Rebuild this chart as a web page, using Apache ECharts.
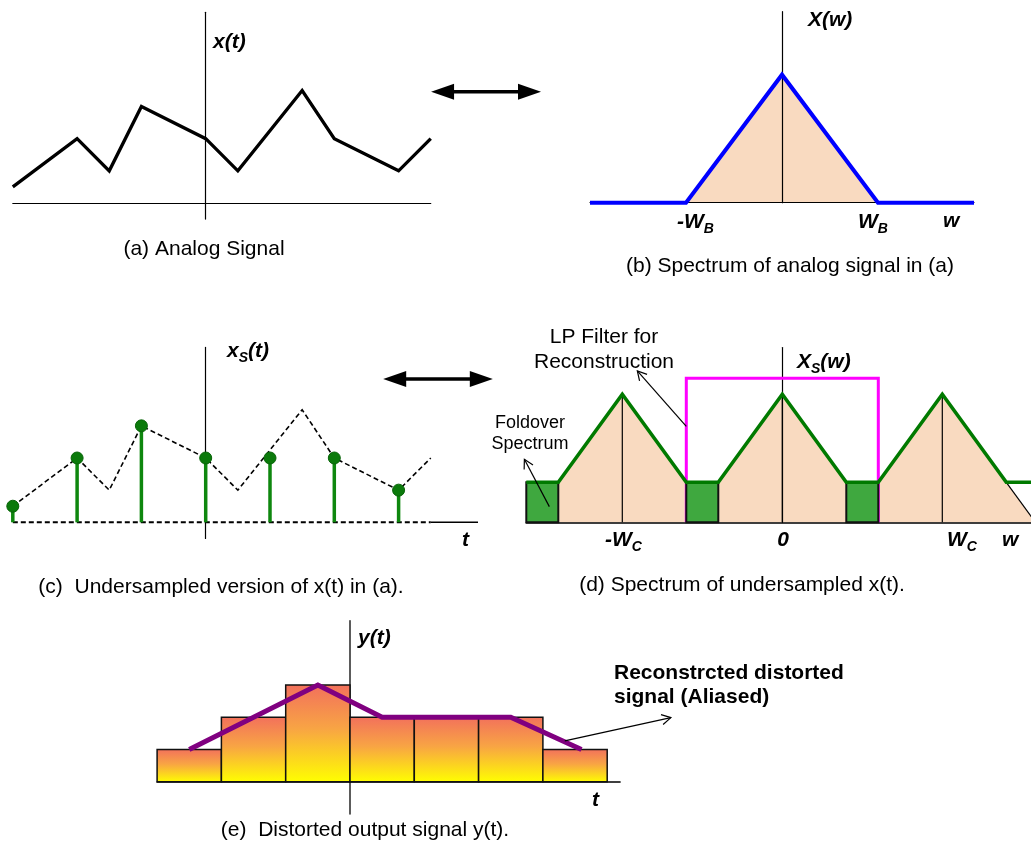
<!DOCTYPE html>
<html>
<head>
<meta charset="utf-8">
<title>Aliasing: undersampling and reconstruction</title>
<script src="https://cdn.jsdelivr.net/npm/echarts@6/dist/echarts.min.js"></script>
<style>
  html, body { margin: 0; padding: 0; background: #ffffff; }
  #chart { width: 1031px; height: 844px; }
</style>
</head>
<body>
<div id="chart"></div>
<script>
// ---- (a) analog signal x(t), breakpoints in half-sample steps ----
const signalT = [-6, -4, -3, -2, 0, 1, 3, 4, 6, 7];
const signalX = [0.5, 2, 1, 3, 2, 1, 3.5, 2, 1, 2];

// ---- (b) band-limited spectrum X(w), edges at -W_B and W_B ----
const spectrumW = [-6, -3, 0, 3, 6];
const spectrumX = [0, 0, 4, 0, 0];

// ---- (c) undersampled signal x_s(t) ----
const sampleT = [-6, -4, -2, 0, 2, 4, 6];
const sampleX = [0.5, 2, 3, 2, 2, 2, 1];

// ---- (d) spectrum of the undersampled signal ----
const aliasW = [-8, -7, -5, -3, -2, 0, 2, 3, 5, 7, 8];
const aliasX = [1.25, 1.25, 4, 1.25, 1.25, 4, 1.25, 1.25, 4, 1.25, 1.25];
const replicaW = [-5, 0, 5];          // -W_C, 0, W_C
const replicaPeak = 4;
const tailW = [7, 7.91];              // last replica edge running down to the axis
const tailX = [1.25, 0];
const foldoverStart = [-8, -3, 2];
const foldoverWidth = 1;
const foldoverHeight = 1.25;
const lowpassW = [-3, -3, 3, 3];
const lowpassX = [0, 4.5, 4.5, 0];

// ---- (e) held output and reconstructed signal y(t) ----
const holdEdges = [-3, -2, -1, 0, 1, 2, 3, 4];
const holdLevels = [1, 2, 3, 2, 2, 2, 1];
const reconT = [-2.5, -0.5, 0.5, 2.5, 3.6];
const reconY = [1, 3, 2, 2, 1];

// ---- annotation arrows, in each panel's own units ----
const pairArrowA = [[7.01, 3.46, 10.43, 3.46]];      // x(t) <-> X(w)
const pairArrowC = [[5.52, 4.46, 8.93, 4.46]];       // x_s(t) <-> X_s(w)
const leaderD = [[-3, 3.0, -4.53, 4.73], [-7.28, 0.49, -8.06, 1.97]];
const leaderE = [[3.34, 1.27, 4.99, 1.99]];

// ---- layout: origin in px, px per unit, axis extents ----
const panels = [
  { x0: 205.7, y0: 203.0, ux: 32.15, uy: 32.15, x: [-6, 7],    y: [-0.5, 5.93] }, // a
  { x0: 782.0, y0: 202.7, ux: 32,    uy: 32,    x: [-6, 6],    y: [0, 5.97] },    // b
  { x0: 205.7, y0: 522.3, ux: 32.15, uy: 32.15, x: [-6, 8.47], y: [-0.5, 5.44] }, // c
  { x0: 782.3, y0: 522.3, ux: 32,    uy: 32,    x: [-8, 7.77], y: [0, 5.46] },    // d
  { x0: 350.0, y0: 781.7, ux: 64.3,  uy: 32.2,  x: [-3, 4.2],  y: [-1, 5] }       // e
];

const FONT = '"Liberation Sans", Arial, Helvetica, sans-serif';
const regular = s => `${s}px ${FONT}`;
const bold = s => `bold ${s}px ${FONT}`;
const boldItalic = s => `italic bold ${s}px ${FONT}`;

const PEACH = '#F9DAC0';
const FOLD_GREEN = '#3FA83F';
const OUTLINE_GREEN = '#007A00';
const STEM_GREEN = '#0E870E';
const BLUE = '#0000FF';
const MAGENTA = '#FF00FF';
const PURPLE = '#800080';

const zip = (xs, ys) => xs.map((x, i) => [x, ys[i]]);

const grids = panels.map(p => ({
  left: p.x0 + p.x[0] * p.ux,
  width: (p.x[1] - p.x[0]) * p.ux,
  top: p.y0 - p.y[1] * p.uy,
  height: (p.y[1] - p.y[0]) * p.uy,
  containLabel: false,
  outerBoundsMode: 'none'
}));

function axisLine(style) {
  return style ? { show: true, onZero: true, lineStyle: style } : { show: false };
}
function valueAxis(i, range, line) {
  return {
    type: 'value', gridIndex: i, min: range[0], max: range[1], z: 2,
    axisLine: axisLine(line), axisTick: { show: false },
    axisLabel: { show: false }, splitLine: { show: false }
  };
}
const thin = { color: '#000', width: 1.2 };
const xAxes = [
  valueAxis(0, panels[0].x, thin),
  valueAxis(1, panels[1].x, thin),
  valueAxis(2, panels[2].x, null),
  valueAxis(3, panels[3].x, { color: '#000', width: 1.6 }),
  valueAxis(4, panels[4].x, { color: '#000', width: 1.6 })
];
const yAxes = [
  valueAxis(0, panels[0].y, thin),
  valueAxis(1, panels[1].y, thin),
  valueAxis(2, panels[2].y, thin),
  valueAxis(3, panels[3].y, thin),
  valueAxis(4, panels[4].y, { color: '#333', width: 1.6 })
];

function lineSeries(grid, data, lineStyle, z, extra) {
  return Object.assign({
    type: 'line', xAxisIndex: grid, yAxisIndex: grid, data,
    symbol: 'none', smooth: false, clip: false, silent: true,
    lineStyle: Object.assign({ join: 'miter' }, lineStyle), z
  }, extra || {});
}

// vertical segment from the axis up to the value
function segmentRenderer(style) {
  return function (params, api) {
    const top = api.coord([api.value(0), api.value(1)]);
    const base = api.coord([api.value(0), 0]);
    return {
      type: 'line',
      shape: { x1: base[0], y1: base[1], x2: top[0], y2: top[1] },
      style: Object.assign({}, style)
    };
  };
}

// rectangle [x0, x1] x [0, h]
function blockRenderer(styleFn) {
  return function (params, api) {
    const tl = api.coord([api.value(0), api.value(2)]);
    const br = api.coord([api.value(1), 0]);
    return {
      type: 'rect',
      shape: { x: tl[0], y: tl[1], width: br[0] - tl[0], height: br[1] - tl[1] },
      style: styleFn()
    };
  };
}

function unitVectors(a, b) {
  const dx = b[0] - a[0], dy = b[1] - a[1];
  const len = Math.hypot(dx, dy) || 1;
  return { ux: dx / len, uy: dy / len, px: -dy / len, py: dx / len };
}

// thick double-headed arrow with solid heads
function renderPairArrow(params, api) {
  const a = api.coord([api.value(0), api.value(1)]);
  const b = api.coord([api.value(2), api.value(3)]);
  const { ux, uy, px, py } = unitVectors(a, b);
  const L = 23, W = 8;
  const head = (tip, dir) => ({
    type: 'polygon',
    shape: { points: [
      tip,
      [tip[0] - dir * ux * L + px * W, tip[1] - dir * uy * L + py * W],
      [tip[0] - dir * ux * L - px * W, tip[1] - dir * uy * L - py * W]
    ] },
    style: { fill: '#000' }
  });
  return {
    type: 'group',
    children: [
      { type: 'line',
        shape: { x1: a[0] + ux * (L - 2), y1: a[1] + uy * (L - 2), x2: b[0] - ux * (L - 2), y2: b[1] - uy * (L - 2) },
        style: { stroke: '#000', lineWidth: 3.5 } },
      head(b, 1), head(a, -1)
    ]
  };
}

// thin leader line with an open head at its far end
function renderLeader(params, api) {
  const a = api.coord([api.value(0), api.value(1)]);
  const b = api.coord([api.value(2), api.value(3)]);
  const { ux, uy, px, py } = unitVectors(a, b);
  const L = 9, W = 5;
  return {
    type: 'group',
    children: [
      { type: 'line', shape: { x1: a[0], y1: a[1], x2: b[0], y2: b[1] },
        style: { stroke: '#000', lineWidth: 1.2 } },
      { type: 'polyline', shape: { points: [
          [b[0] - ux * L + px * W, b[1] - uy * L + py * W], b,
          [b[0] - ux * L - px * W, b[1] - uy * L - py * W] ] },
        style: { stroke: '#000', lineWidth: 1.2, fill: null } }
    ]
  };
}

function customSeries(grid, data, renderItem, z, encode) {
  return {
    type: 'custom', xAxisIndex: grid, yAxisIndex: grid, data, renderItem,
    clip: false, silent: true, z, encode: encode || { x: 0, y: 1 }
  };
}

const holdGradient = () => new echarts.graphic.LinearGradient(0, 0, 0, 1, [
  { offset: 0, color: '#F2705C' },
  { offset: 0.45, color: '#F8A444' },
  { offset: 1, color: '#FFFF00' }
]);

const peachFill = zip(aliasW.slice(1, -1), aliasX.slice(1, -1)).concat([[tailW[1], tailX[1]]]);

const series = [
  // (a)
  lineSeries(0, zip(signalT, signalX), { color: '#000', width: 3.3 }, 3),
  customSeries(0, pairArrowA, renderPairArrow, 6, { x: [0, 2], y: [1, 3] }),

  // (b)
  lineSeries(1, zip(spectrumW, spectrumX), { width: 0, opacity: 0 }, 1,
    { areaStyle: { color: PEACH, opacity: 1 } }),
  lineSeries(1, zip(spectrumW, spectrumX), { color: BLUE, width: 4 }, 3),

  // (c)
  lineSeries(2, zip(signalT, signalX), { color: '#000', width: 1.6, type: [5, 3] }, 3),
  lineSeries(2, [[panels[2].x[0], 0], [signalT[signalT.length - 1], 0]], { color: '#000', width: 2, type: [5, 3] }, 3),
  lineSeries(2, [[signalT[signalT.length - 1], 0], [panels[2].x[1], 0]], { color: '#000', width: 1.6 }, 3),
  customSeries(2, zip(sampleT, sampleX), segmentRenderer({ stroke: STEM_GREEN, lineWidth: 3.5 }), 4),
  {
    type: 'scatter', xAxisIndex: 2, yAxisIndex: 2, data: zip(sampleT, sampleX),
    symbol: 'circle', symbolSize: 12, silent: true, z: 5,
    itemStyle: { color: '#0B7A0B', borderColor: '#086408', borderWidth: 1, opacity: 1 }
  },
  customSeries(2, pairArrowC, renderPairArrow, 6, { x: [0, 2], y: [1, 3] }),

  // (d)
  lineSeries(3, peachFill, { width: 0, opacity: 0 }, 1, { areaStyle: { color: PEACH, opacity: 1 } }),
  lineSeries(3, zip(lowpassW, lowpassX), { color: MAGENTA, width: 3 }, 3),
  customSeries(3, foldoverStart.map(s => [s, s + foldoverWidth, foldoverHeight]),
    blockRenderer(() => ({ fill: FOLD_GREEN, stroke: '#111', lineWidth: 2 })), 4,
    { x: [0, 1], y: 2 }),
  customSeries(3, replicaW.map(w => [w, replicaPeak]), segmentRenderer({ stroke: '#000', lineWidth: 1.2 }), 4),
  lineSeries(3, zip(tailW, tailX), { color: '#000', width: 1.2 }, 4),
  lineSeries(3, zip(aliasW, aliasX), { color: OUTLINE_GREEN, width: 3.6 }, 5),
  customSeries(3, leaderD, renderLeader, 6, { x: [0, 2], y: [1, 3] }),

  // (e)
  customSeries(4, holdLevels.map((h, i) => [holdEdges[i], holdEdges[i + 1], h]),
    blockRenderer(() => ({ fill: holdGradient(), stroke: '#111', lineWidth: 1.5 })), 3,
    { x: [0, 1], y: 2 }),
  lineSeries(4, zip(reconT, reconY), { color: PURPLE, width: 5 }, 5),
  customSeries(4, leaderE, renderLeader, 6, { x: [0, 2], y: [1, 3] })
];

// ---- text ----
function label(str, x, y, font, align) {
  const a = align || 'left';
  return {
    type: 'text', x, y, z: 20, silent: true,
    style: { text: str, font, fill: '#000', align: a, verticalAlign: 'middle',
             textAlign: a, textVerticalAlign: 'middle' }
  };
}
function subscripted(main, sub, after, x, y) {
  const text = `{m|${main}}{s|${sub}}` + (after ? `{m|${after}}` : '');
  return {
    type: 'text', x, y, z: 20, silent: true,
    style: {
      text, fill: '#000', align: 'left', verticalAlign: 'middle',
      textAlign: 'left', textVerticalAlign: 'middle',
      rich: {
        m: { font: boldItalic(21), lineHeight: 28, verticalAlign: 'middle', fill: '#000', color: '#000' },
        s: { font: boldItalic(14), lineHeight: 14, verticalAlign: 'bottom', fill: '#000', color: '#000' }
      }
    }
  };
}

const graphics = [
  // (a)
  label('x(t)', 213, 42, boldItalic(21)),
  label('(a) Analog Signal', 204, 249, regular(21), 'center'),
  // (b)
  label('X(w)', 808, 20, boldItalic(21)),
  subscripted('-W', 'B', '', 677, 222),
  subscripted('W', 'B', '', 858, 222),
  label('w', 943, 221, boldItalic(21)),
  label('(b) Spectrum of analog signal in (a)', 790, 266, regular(21), 'center'),
  // (c)
  subscripted('x', 'S', '(t)', 227, 351),
  label('t', 462, 540, boldItalic(21)),
  label('(c)  Undersampled version of x(t) in (a).', 221, 587, regular(21), 'center'),
  // (d)
  label('LP Filter for', 604, 337, regular(21), 'center'),
  label('Reconstruction', 604, 362, regular(21), 'center'),
  label('Foldover', 530, 423, regular(18), 'center'),
  label('Spectrum', 530, 444, regular(18), 'center'),
  subscripted('X', 'S', '(w)', 797, 362),
  subscripted('-W', 'C', '', 605, 540),
  label('0', 783, 540, boldItalic(21), 'center'),
  subscripted('W', 'C', '', 947, 540),
  label('w', 1002, 540, boldItalic(21)),
  label('(d) Spectrum of undersampled x(t).', 742, 585, regular(21), 'center'),
  // (e)
  label('y(t)', 358, 638, boldItalic(21)),
  label('t', 592, 800, boldItalic(21)),
  label('(e)  Distorted output signal y(t).', 365, 830, regular(21), 'center'),
  label('Reconstrcted distorted', 614, 673, bold(21)),
  label('signal (Aliased)', 614, 697, bold(21))
];

const chart = echarts.init(document.getElementById('chart'), null, { renderer: 'canvas' });
chart.setOption({
  backgroundColor: '#ffffff',
  animation: false,
  tooltip: { show: false },
  grid: grids,
  xAxis: xAxes,
  yAxis: yAxes,
  series,
  graphic: { elements: graphics }
});
</script>
</body>
</html>
